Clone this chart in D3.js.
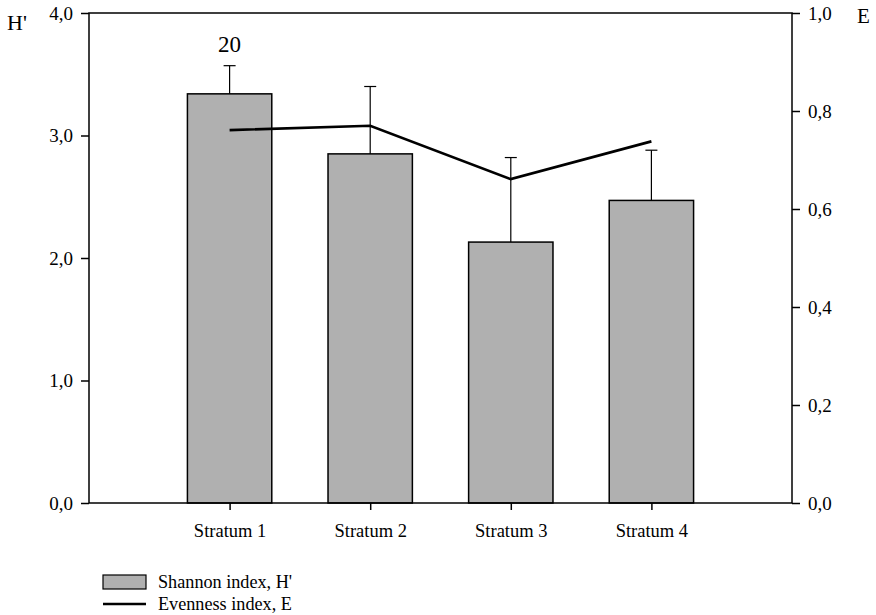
<!DOCTYPE html>
<html>
<head>
<meta charset="utf-8">
<script src="https://cdn.jsdelivr.net/npm/d3@7"></script>
<style>
  html, body { margin: 0; padding: 0; background: #fff; }
  svg { display: block; }
  svg text { font-family: "Liberation Serif", "Times New Roman", serif !important; fill: #000; }
</style>
</head>
<body>
<svg id="chart" width="876" height="615"></svg>
<script>
const categories = ["Stratum 1", "Stratum 2", "Stratum 3", "Stratum 4"];
const shannon = [3.34, 2.85, 2.13, 2.47];
const shannonErr = [0.23, 0.55, 0.69, 0.41];
const evenness = [0.761, 0.770, 0.661, 0.738];
const leftTicks = [0, 1, 2, 3, 4];
const rightTicks = [0, 0.2, 0.4, 0.6, 0.8, 1.0];
const annotation = "20";
const legendLabels = ["Shannon index, H'", "Evenness index, E"];

const svg = d3.select("#chart");
const m = { left: 89, right: 792, top: 13, bottom: 503 };

const x = d3.scaleLinear().domain([0, categories.length + 1]).range([m.left, m.right]);
const yL = d3.scaleLinear().domain([0, 4]).range([m.bottom, m.top]);
const yR = d3.scaleLinear().domain([0, 1]).range([m.bottom, m.top]);
const step = x(1) - x(0);
const barW = step * 0.6;
const fmt = v => d3.format(".1f")(v).replace(".", ",");

// bars
svg.append("g").selectAll("rect").data(shannon).join("rect")
  .attr("x", (d, i) => x(i + 1) - barW / 2)
  .attr("y", d => yL(d))
  .attr("width", barW)
  .attr("height", d => yL(0) - yL(d))
  .attr("fill", "#b0b0b0")
  .attr("stroke", "#000")
  .attr("stroke-width", 1.5);

// error bars
const eg = svg.append("g").attr("stroke", "#000").attr("stroke-width", 1.2);
shannon.forEach((d, i) => {
  const cx = x(i + 1);
  eg.append("line").attr("x1", cx).attr("x2", cx).attr("y1", yL(d)).attr("y2", yL(d + shannonErr[i]));
  eg.append("line").attr("x1", cx - 6).attr("x2", cx + 6).attr("y1", yL(d + shannonErr[i])).attr("y2", yL(d + shannonErr[i]));
});

// evenness line
svg.append("path")
  .datum(evenness)
  .attr("fill", "none")
  .attr("stroke", "#000")
  .attr("stroke-width", 2.6)
  .attr("d", d3.line().x((d, i) => x(i + 1)).y(d => yR(d)));

// annotation
svg.append("text").attr("x", x(1)).attr("y", 52).attr("text-anchor", "middle")
  .style("font-size", "23px").text(annotation);

// axes
const axL = svg.append("g").attr("transform", `translate(${m.left},0)`)
  .call(d3.axisLeft(yL).tickValues(leftTicks).tickFormat(fmt).tickSize(8).tickPadding(8));
const axR = svg.append("g").attr("transform", `translate(${m.right},0)`)
  .call(d3.axisRight(yR).tickValues(rightTicks).tickFormat(fmt).tickSize(8).tickPadding(8));
const axB = svg.append("g").attr("transform", `translate(0,${m.bottom})`)
  .call(d3.axisBottom(x).tickValues(categories.map((c, i) => i + 1))
    .tickFormat((d) => categories[d - 1]).tickSize(7).tickPadding(14));
[axL, axR, axB].forEach(a => {
  a.attr("font-family", null).attr("font-size", null);
  a.selectAll("path").remove();
  a.selectAll("line").attr("stroke", "#000").attr("stroke-width", 1.5);
});
axL.selectAll("text").style("font-size", "19px");
axR.selectAll("text").style("font-size", "19px");
axB.selectAll("text").style("font-size", "18.5px");

// frame
svg.append("rect").attr("x", m.left).attr("y", m.top)
  .attr("width", m.right - m.left).attr("height", m.bottom - m.top)
  .attr("fill", "none").attr("stroke", "#000").attr("stroke-width", 1.5);

// axis titles
svg.append("text").attr("x", 7).attr("y", 30).style("font-size", "22px").text("H'");
svg.append("text").attr("x", 857).attr("y", 23).style("font-size", "21px").text("E");

// legend
svg.append("rect").attr("x", 103).attr("y", 575).attr("width", 43).attr("height", 14)
  .attr("fill", "#b0b0b0").attr("stroke", "#000").attr("stroke-width", 1.2);
svg.append("line").attr("x1", 103).attr("x2", 146).attr("y1", 604).attr("y2", 604)
  .attr("stroke", "#000").attr("stroke-width", 2.6);
svg.append("text").attr("x", 158).attr("y", 588).style("font-size", "18.2px").text(legendLabels[0]);
svg.append("text").attr("x", 158).attr("y", 610).style("font-size", "18.2px").text(legendLabels[1]);
</script>
</body>
</html>
